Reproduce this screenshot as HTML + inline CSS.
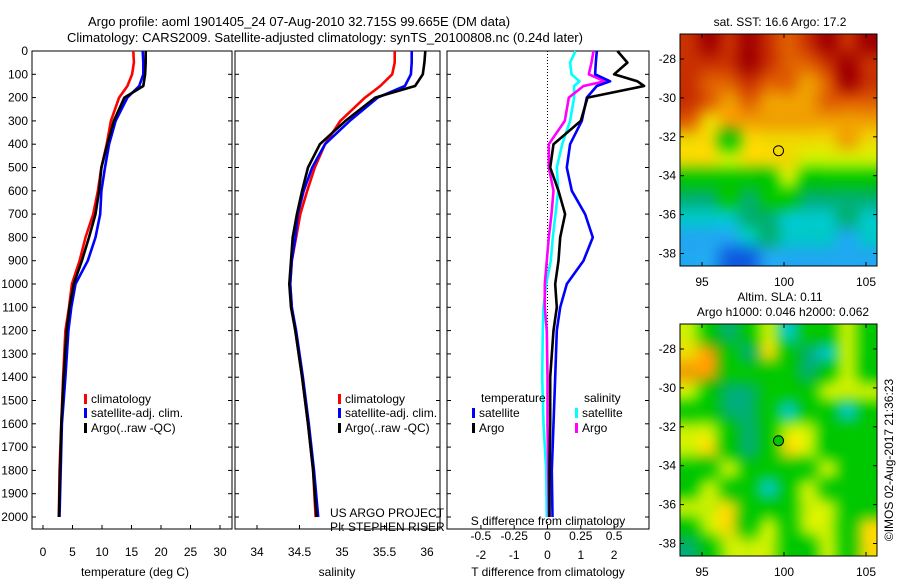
<!DOCTYPE html>
<html><head><meta charset="utf-8"><style>
body{margin:0;background:#fff;}
#wrap{position:relative;width:900px;height:580px;}
canvas{position:absolute;}
svg{position:absolute;left:0;top:0;display:block;font-family:"Liberation Sans",sans-serif;}
text{fill:#000;}
</style></head><body>
<div id="wrap">
<canvas id="m1" width="197" height="232" style="left:680px;top:34px"></canvas>
<canvas id="m2" width="197" height="232" style="left:680px;top:324px"></canvas>
<svg id="c" width="900" height="580" viewBox="0 0 900 580">
<text x="299" y="26" font-size="13" text-anchor="middle">Argo profile: aoml 1901405_24 07-Aug-2010 32.715S 99.665E (DM data)</text>
<text x="325" y="42" font-size="13" text-anchor="middle">Climatology: CARS2009. Satellite-adjusted climatology: synTS_20100808.nc (0.24d later)</text>
<g id="g"></g>
</svg>
</div>
<script>
// ---- data ----
const depths = [0,50,100,150,200,300,400,500,600,700,800,900,1000,1100,1200,1400,1600,1800,2000];
const tempClim = [15.3,15.4,15.1,14.3,12.9,11.5,10.8,9.9,9.3,8.5,7.2,6.2,4.9,4.4,3.8,3.4,3.1,2.8,2.7];
const tempSat  = [16.9,17.0,17.0,16.3,14.3,12.3,11.2,10.5,9.9,9.7,8.9,7.6,5.5,4.8,4.3,3.8,3.2,3.0,2.8];
const tempArgo = [17.4,17.4,17.3,17.0,13.8,12.0,10.9,9.9,9.5,8.9,7.8,6.6,5.2,4.5,4.0,3.5,3.1,2.9,2.7];
const salClim = [35.62,35.62,35.59,35.45,35.27,34.98,34.80,34.68,34.59,34.51,34.46,34.41,34.39,34.41,34.45,34.53,34.60,34.66,34.69];
const salSat  = [35.82,35.82,35.81,35.74,35.42,35.09,34.80,34.65,34.55,34.48,34.45,34.41,34.39,34.41,34.46,34.54,34.61,34.67,34.72];
const salArgo = [35.98,35.97,35.95,35.86,35.39,35.04,34.74,34.60,34.53,34.47,34.42,34.40,34.38,34.40,34.45,34.53,34.60,34.66,34.70];
const diffDepths = [0,50,100,130,150,200,300,400,500,600,700,800,900,1000,1100,1200,1400,1600,1800,2000];
const dTSat  = [1.48,1.45,1.43,1.88,1.48,1.18,1.03,0.68,0.58,0.73,1.13,1.36,1.08,0.58,0.38,0.28,0.23,0.18,0.13,0.15];
const dTArgo = [2.1,2.4,2.0,2.7,2.9,1.2,1.0,0.18,0.08,0.33,0.53,0.38,0.33,0.23,0.28,0.18,0.08,0.08,0.06,0.06];
const dSSat  = [0.21,0.17,0.18,0.24,0.2,0.2,0.17,0.11,0.07,0.08,0.06,0.04,0.025,-0.01,-0.03,-0.035,-0.04,-0.03,-0.01,-0.005];
const dSArgo = [0.345,0.33,0.31,0.43,0.27,0.16,0.13,0.01,0.01,0.045,0.03,0.01,-0.005,-0.02,-0.02,-0.005,0,0,0.005,0.01];
const depthTicks = [0,100,200,300,400,500,600,700,800,900,1000,1100,1200,1300,1400,1500,1600,1700,1800,1900,2000];
const tempTicks = [0,5,10,15,20,25,30];
const salTicks = [34,34.5,35,35.5,36];
const dTTicks = [-2,-1,0,1,2];
const dSTicks = ["-0.5","-0.25","0","0.25","0.5"];
const sstGrid = [
[9,10,9,10,9,8,9,10,9,10],
[9,9,9,10,9,8,8,9,10,9],
[9,8,8,9,8,8,7,8,10,9],
[9,8,7,8,7,7,7,8,8,8],
[8,6,7,7,7,7,7,7,7,7],
[6,6,4,6,6,6,6,6,7,6],
[6,6,5,6,6,6,5,5,5,5],
[4,4,4,4,4,5,4,4,4,4],
[3,3,4,3,4,4,3,3,3,3],
[2,2,2,3,3,2,2,2,3,2],
[1,1,1,2,3,2,2,2,1,2],
[1,1,0,0,1,1,1,1,1,1]];
const slaGrid = [
[5,4,3,4,5,2,4,4,5,4],
[6,7,4,3,6,4,3,2,5,4],
[7,7,4,4,4,4,3,4,5,4],
[5,4,3,3,4,4,4,5,5,5],
[4,4,3,3,4,2,4,4,2,4],
[5,5,4,3,4,5,5,4,4,4],
[5,6,4,3,4,6,5,4,4,4],
[4,4,5,4,4,4,4,5,4,4],
[4,5,4,4,2,4,5,4,4,4],
[5,5,6,4,4,4,5,5,4,4],
[4,5,6,4,5,4,5,5,4,6],
[3,4,5,5,5,4,4,5,4,6]];
const palette = ["#1060e0","#20a8f0","#00c8c8","#00b070","#00c800","#c8f000","#f0d800","#f0a000","#e06000","#c83000","#a00000"];
const lonTicks = [95,100,105];
const latTicks = [-28,-30,-32,-34,-36,-38];
const argoLon = 99.665, argoLat = -32.715;

// ---- helpers ----
const NS="http://www.w3.org/2000/svg";
const G=document.getElementById('g');
function el(t,a,p){const e=document.createElementNS(NS,t);for(const k in a)e.setAttribute(k,a[k]);(p||G).appendChild(e);return e;}
function txt(x,y,s,fs,anchor,p){const e=el('text',{x:x,y:y,'font-size':fs||12,'text-anchor':anchor||'middle'},p);e.textContent=s;return e;}
const yTop=51, yPerDb=(517-51)/2000;
function yD(d){return yTop+d*yPerDb;}
const boxB=529;

function panel(x0,x1,name,labels){
  const r=el('rect',{x:x0,y:yTop,width:x1-x0,height:boxB-yTop,fill:'none',stroke:'#000','stroke-width':1});
  
  
  depthTicks.forEach(d=>{
    el('line',{x1:x0,x2:x0+4,y1:yD(d),y2:yD(d),stroke:'#000'});
    el('line',{x1:x1,x2:x1-4,y1:yD(d),y2:yD(d),stroke:'#000'});
    if(labels){const t=txt(x0-4,yD(d)+4,String(d),12,'end');
      
      }
  });
}
function line(xs,ds,xf,color,name){
  const pts=xs.map((v,i)=>xf(v).toFixed(1)+','+yD(ds[i]).toFixed(1)).join(' ');
  const p=el('polyline',{points:pts,fill:'none',stroke:color,'stroke-width':2.6,'stroke-linejoin':'round'});
  
  
}
function legend(x,y,color,label,name){
  el('rect',{x:x,y:y-9,width:3,height:10,fill:color});
  const t=txt(x+7,y,label,12,'start');
  
  
}

// Panel 1 temperature
const xT=v=>43+v*5.9;
panel(32,232,'temperature',true);
tempTicks.forEach(v=>{el('line',{x1:xT(v),x2:xT(v),y1:boxB,y2:boxB-4,stroke:'#000'});
  const t=txt(xT(v),556,String(v));});
txt(135,576,'temperature (deg C)');
line(tempClim,depths,xT,'#ff0000','temp-climatology-line');
line(tempSat,depths,xT,'#0000ff','temp-satellite-line');
line(tempArgo,depths,xT,'#000000','temp-argo-line');
legend(84,403,'#f00','climatology','legend-climatology');
legend(84,417,'#00f','satellite-adj. clim.','legend-satellite');
legend(84,432,'#000','Argo(..raw -QC)','legend-argo');

// Panel 2 salinity
const xS=v=>257+(v-34)*85;
panel(235,440,'salinity',false);
salTicks.forEach(v=>{el('line',{x1:xS(v),x2:xS(v),y1:boxB,y2:boxB-4,stroke:'#000'});
  const t=txt(xS(v),556,String(v));});
txt(337,576,'salinity');
line(salClim,depths,xS,'#ff0000','sal-climatology-line');
line(salSat,depths,xS,'#0000ff','sal-satellite-line');
line(salArgo,depths,xS,'#000000','sal-argo-line');
legend(338,403,'#f00','climatology','legend-climatology-2');
legend(338,417,'#00f','satellite-adj. clim.','legend-satellite-2');
legend(338,432,'#000','Argo(..raw -QC)','legend-argo-2');
txt(330,517,'US ARGO PROJECT',12,'start');
txt(330,531,'PI: STEPHEN RISER',12,'start');

// Panel 3 differences
const xdT=v=>547.5+v*33.3, xdS=v=>547.5+v*133.2;
panel(447,649,'difference',false);
el('line',{x1:547.5,x2:547.5,y1:yTop,y2:boxB,stroke:'#000','stroke-dasharray':'1,2'});
dTTicks.forEach(v=>{el('line',{x1:xdT(v),x2:xdT(v),y1:boxB,y2:boxB-4,stroke:'#000'});
  const t=txt(xdT(v),559,String(v));});
dSTicks.forEach(v=>{const t=txt(xdS(parseFloat(v)),540,v);});
txt(548,525,'S difference from climatology');
txt(548,576,'T difference from climatology');
line(dSSat,diffDepths,xdS,'#00ffff','sdiff-satellite-line');
line(dSArgo,diffDepths,xdS,'#ff00ff','sdiff-argo-line');
line(dTSat,diffDepths,xdT,'#0000ff','tdiff-satellite-line');
line(dTArgo,diffDepths,xdT,'#000000','tdiff-argo-line');
txt(481,402,'temperature',12,'start');
txt(584,402,'salinity',12,'start');
legend(472,417,'#00f','satellite','legend-tdiff-satellite');
legend(472,432,'#000','Argo','legend-tdiff-argo');
legend(575,417,'#0ff','satellite','legend-sdiff-satellite');
legend(575,432,'#f0f','Argo','legend-sdiff-argo');

// Maps: smooth heatmap via bilinear canvas upscaling
function hex(h){return [parseInt(h.substr(1,2),16),parseInt(h.substr(3,2),16),parseInt(h.substr(5,2),16)];}
function drawHeat(id,grid){
  const R=grid.length, C=grid[0].length;
  const s=document.createElement('canvas'); s.width=C+2; s.height=R+2;
  const sx=s.getContext('2d'); const img=sx.createImageData(C+2,R+2);
  for(let r=0;r<R+2;r++)for(let c=0;c<C+2;c++){
    const v=grid[Math.min(R-1,Math.max(0,r-1))][Math.min(C-1,Math.max(0,c-1))];
    const k=hex(palette[v]); const o=(r*(C+2)+c)*4;
    img.data[o]=k[0];img.data[o+1]=k[1];img.data[o+2]=k[2];img.data[o+3]=255;
  }
  sx.putImageData(img,0,0);
  const cv=document.getElementById(id); const ctx=cv.getContext('2d');
  ctx.imageSmoothingEnabled=true; ctx.imageSmoothingQuality='high';
  ctx.drawImage(s,1,1,C,R,0,0,cv.width,cv.height);
}
drawHeat('m1',sstGrid);
drawHeat('m2',slaGrid);

const xL=v=>702+(v-95)*16.4;
function mapAxes(y0,name,circFill){
  const fr=el('rect',{x:680,y:y0,width:197,height:232,fill:'none',stroke:'#000'});
  
  
  lonTicks.forEach(v=>{el('line',{x1:xL(v),x2:xL(v),y1:y0+232,y2:y0+228,stroke:'#000'});
    el('line',{x1:xL(v),x2:xL(v),y1:y0,y2:y0+4,stroke:'#000'});
    const t=txt(xL(v),y0+252,String(v));});
  latTicks.forEach(v=>{const y=y0+25+(-28-v)*19.45;
    el('line',{x1:680,x2:684,y1:y,y2:y,stroke:'#000'});el('line',{x1:877,x2:873,y1:y,y2:y,stroke:'#000'});
    const t=txt(676,y+4,String(v),12,'end');});
  const ci=el('circle',{cx:xL(argoLon),cy:y0+25+(-28-argoLat)*19.45,r:5,fill:circFill,stroke:'#000','stroke-width':1});
  
  
}
mapAxes(34,'sst-map','none');
mapAxes(324,'sla-map','#00c800');
txt(780,26,'sat. SST: 16.6 Argo: 17.2');
txt(780,301,'Altim. SLA: 0.11');
txt(783,316,'Argo h1000: 0.046 h2000: 0.062');
const im=txt(0,0,'©IMOS 02-Aug-2017 21:36:23');
im.setAttribute('transform','translate(893,460) rotate(-90)');


</script>
</body></html>
